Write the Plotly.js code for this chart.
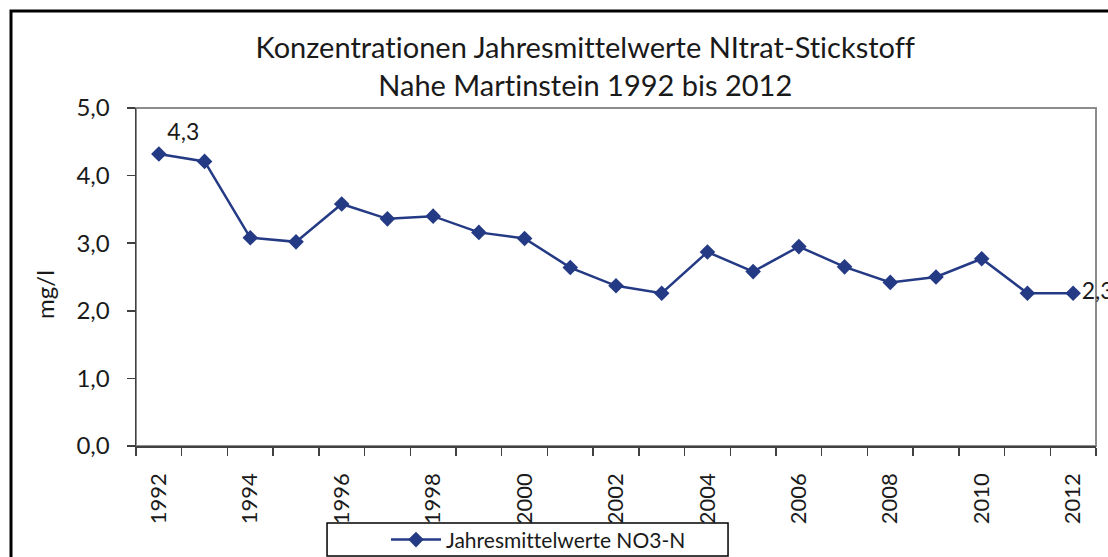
<!DOCTYPE html>
<html>
<head>
<meta charset="utf-8">
<script src="https://cdn.plot.ly/plotly-3.0.1.min.js"></script>
<style>
  html, body { margin: 0; padding: 0; background: #ffffff; }
  #chart { width: 1108px; height: 557px; }
  #chart text { font-variant-ligatures: none; font-feature-settings: "liga" 0; }
</style>
</head>
<body>
<div id="chart"></div>
<script>
// ---- data ----
const years = [1992, 1993, 1994, 1995, 1996, 1997, 1998, 1999, 2000, 2001, 2002,
               2003, 2004, 2005, 2006, 2007, 2008, 2009, 2010, 2011, 2012];
const no3n = [4.32, 4.21, 3.08, 3.02, 3.58, 3.36, 3.40, 3.16, 3.07, 2.64, 2.37,
              2.26, 2.87, 2.58, 2.95, 2.65, 2.42, 2.50, 2.77, 2.26, 2.26];
const tickYears = [1992, 1994, 1996, 1998, 2000, 2002, 2004, 2006, 2008, 2010, 2012];
const yTicks = [0, 1, 2, 3, 4, 5];
const seriesName = 'Jahresmittelwerte NO3-N';
const titleLines = ['Konzentrationen Jahresmittelwerte NItrat-Stickstoff',
                    'Nahe Martinstein 1992 bis 2012'];
const yTitle = 'mg/l';

// labels only on first and last points
const fmt = v => v.toFixed(1).replace('.', ',');
const labels = no3n.map((v, i) => (i === 0 || i === no3n.length - 1) ? fmt(v) : '');
const labelPos = no3n.map((v, i) => i === 0 ? 'top right' : 'middle right');

const FONT = 'Lato, "Open Sans", sans-serif';
const BLUE = '#253a85';
const AXIS = '#404040';
const TXT = '#1a1a1a';

const trace = {
  x: years,
  y: no3n,
  name: seriesName,
  type: 'scatter',
  mode: 'lines+markers+text',
  line: { color: BLUE, width: 2.5 },
  marker: { symbol: 'diamond', size: 12, color: BLUE },
  text: labels,
  textposition: labelPos,
  textfont: { family: FONT, size: 23, color: TXT },
  cliponaxis: false,
  hoverinfo: 'x+y'
};

const layout = {
  width: 1108,
  height: 557,
  margin: { l: 136, r: 12, t: 108, b: 111, autoexpand: false },
  paper_bgcolor: '#ffffff',
  plot_bgcolor: '#ffffff',
  separators: ',.',
  font: { family: FONT, color: TXT },
  title: {
    text: titleLines.join('<br>'),
    font: { family: FONT, size: 29, color: TXT },
    xref: 'paper', x: 0.468, xanchor: 'center',
    yref: 'container', y: 0.895, yanchor: 'middle'
  },
  xaxis: {
    automargin: false,
    range: [years[0] - 0.5, years[years.length - 1] + 0.5],
    tickmode: 'array',
    tickvals: tickYears,
    ticktext: tickYears.map(String),
    tickangle: -90,
    ticks: '',
    ticklabelstandoff: 17,
    tickfont: { family: FONT, size: 22, color: TXT },
    showline: true, linecolor: AXIS, linewidth: 1.5,
    showgrid: false, zeroline: false,
    minor: { ticks: 'outside', ticklen: 8, tickwidth: 1.5, tickcolor: AXIS,
             tick0: years[0] - 0.5, dtick: 1, showgrid: false },
    fixedrange: true
  },
  yaxis: {
    automargin: false,
    range: [0, 5],
    tickmode: 'array',
    tickvals: yTicks,
    tickformat: '.1f',
    ticks: 'outside', ticklen: 8, tickwidth: 1.5, tickcolor: AXIS,
    ticklabelstandoff: 12,
    tickfont: { family: FONT, size: 24, color: TXT },
    showline: true, linecolor: AXIS, linewidth: 1.5,
    showgrid: false, zeroline: false,
    fixedrange: true
  },
  annotations: [
    { text: yTitle, xref: 'paper', yref: 'paper', x: -0.0948, y: 0.45,
      xanchor: 'center', yanchor: 'middle', textangle: -90, showarrow: false,
      font: { family: FONT, size: 24, color: TXT } }
  ],
  showlegend: true,
  legend: {
    orientation: 'h',
    xref: 'paper', yref: 'paper',
    x: 0.2604, xanchor: 'left',
    y: -0.278, yanchor: 'middle',
    bgcolor: 'rgba(0,0,0,0)',
    borderwidth: 0,
    font: { family: FONT, size: 21, color: TXT },
    itemwidth: 50
  },
  shapes: [
    // plot-area frame (top/right grey)
    { type: 'rect', xref: 'paper', yref: 'paper', x0: 0, x1: 1, y0: 0, y1: 1,
      line: { color: '#8c8c8c', width: 2 }, layer: 'below' },
    // legend box
    { type: 'rect', xref: 'paper', yref: 'paper', x0: 0.199, x1: 0.6167, y0: -0.3254, y1: -0.2278,
      line: { color: '#000000', width: 1.5 }, fillcolor: 'rgba(0,0,0,0)', layer: 'below' },
    // outer chart border (partly cropped in the picture)
    { type: 'rect', xref: 'paper', yref: 'paper', x0: -0.1302, x1: 1.1, y0: -0.6, y1: 1.287,
      line: { color: '#000000', width: 3 }, fillcolor: 'rgba(0,0,0,0)' }
  ]
};

Plotly.newPlot('chart', [trace], layout, { staticPlot: true, displayModeBar: false });
</script>
</body>
</html>
